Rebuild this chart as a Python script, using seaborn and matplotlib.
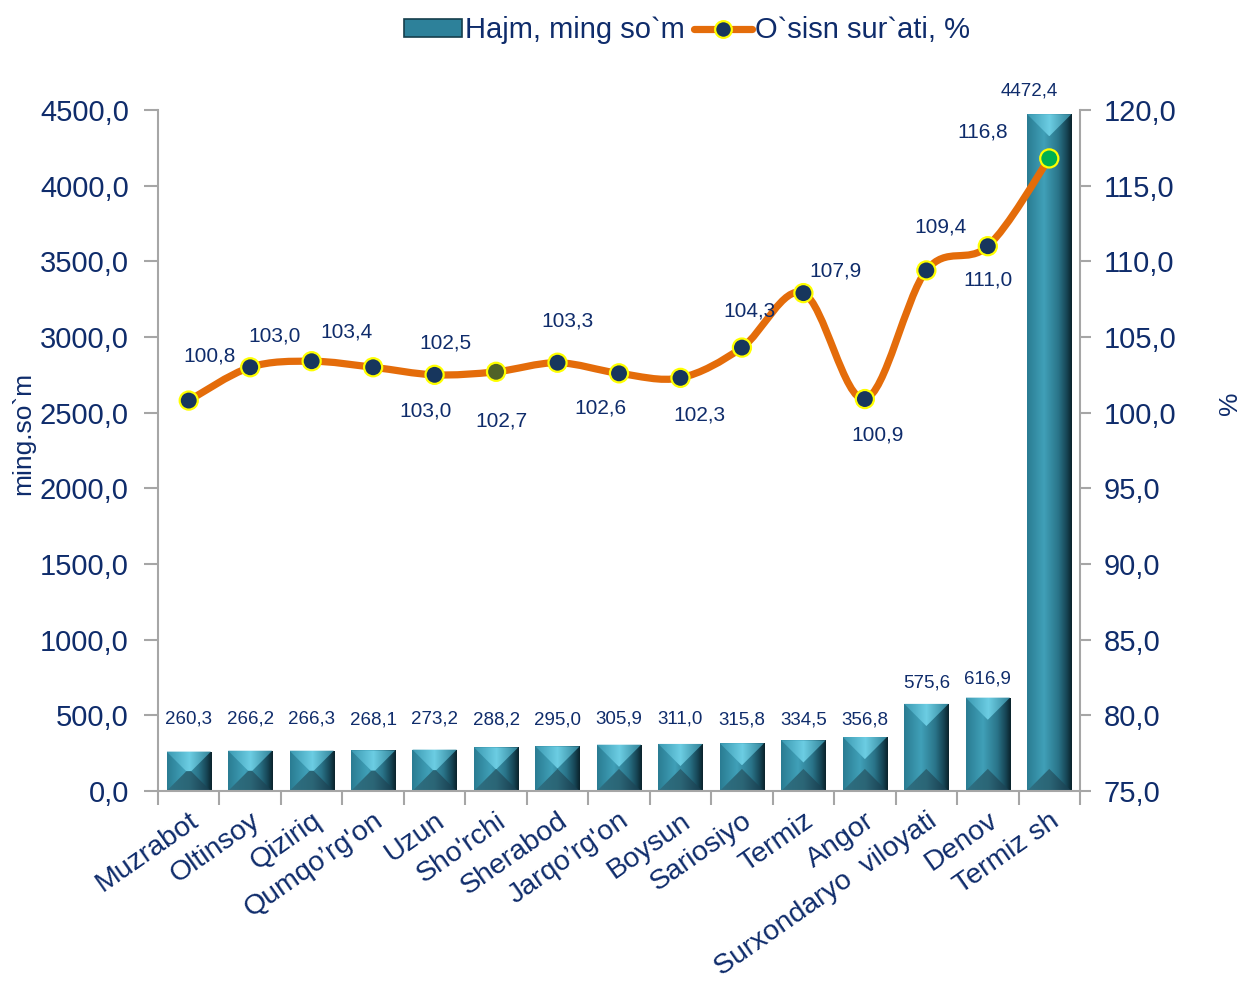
import numpy as np
import pandas as pd
import seaborn as sns
import matplotlib.pyplot as plt
from matplotlib.path import Path
from matplotlib.patches import PathPatch, Polygon, Patch
from matplotlib.lines import Line2D
from matplotlib.ticker import FixedLocator
from matplotlib.colors import LinearSegmentedColormap


districts = ["Muzrabot", "Oltinsoy", "Qiziriq", "Qumqo’rg'on", "Uzun", "Sho'rchi",
             "Sherabod", "Jarqo’rg'on", "Boysun", "Sariosiyo", "Termiz", "Angor",
             "Surxondaryo  viloyati", "Denov", "Termiz sh"]
volume = [260.3, 266.2, 266.3, 268.1, 273.2, 288.2, 295.0, 305.9, 311.0, 315.8,
          334.5, 356.8, 575.6, 616.9, 4472.4]
growth = [100.8, 103.0, 103.4, 103.0, 102.5, 102.7, 103.3, 102.6, 102.3, 104.3,
          107.9, 100.9, 109.4, 111.0, 116.8]
vol_ticks = [0, 500, 1000, 1500, 2000, 2500, 3000, 3500, 4000, 4500]
pct_ticks = [75, 80, 85, 90, 95, 100, 105, 110, 115, 120]

# label placement (pixels, relative to the mark)
bar_label_offsets = [(0, 24), (0, 23), (0, 23), (0, 22), (0, 22), (0, 19), (0, 18), (0, 17),
                     (0, 16), (0, 15), (0, 12), (0, 9), (0, 12), (0, 10), (-20, 15)]
line_label_offsets = [(21, 45), (24, 31), (35, 29), (52, -44), (11, 32), (5, -49), (10, 42),
                      (-19, -35), (19, -37), (8, 37), (32, 22), (13, -36), (14, 43), (0, -34),
                      (-67, 26)]

NAVY = "#0F2C6B"
GRAY = "#A6A6A6"
ORANGE = "#E46C0A"
MARKER = "#17365D"
marker_colors = {d: MARKER for d in districts}
marker_colors["Sho'rchi"] = "#4F6228"
marker_colors["Termiz sh"] = "#00B050"


def fmt(v):
    return f"{v:.1f}".replace(".", ",")


sns.set_style("white")
plt.rcParams["font.family"] = ["Liberation Sans", "DejaVu Sans"]

df = pd.DataFrame({"district": districts, "volume": volume, "growth": growth})

fig = plt.figure(figsize=(12.42, 9.83), dpi=100)
ax = fig.add_axes([158 / 1242, 192 / 983, 922 / 1242, 681 / 983])

sns.barplot(data=df, x="district", y="volume", color="#2D86A0", saturation=1,
            width=0.72, ax=ax, zorder=2)
n = len(districts)
ax.set_xlim(-0.5, n - 0.5)
ax.set_ylim(vol_ticks[0], vol_ticks[-1])

# bevelled bar look
face_cmap = LinearSegmentedColormap.from_list(
    "face", [(0, "#2A7C92"), (0.38, "#40A0B8"), (0.7, "#2A7489"), (0.88, "#174757"), (1, "#0A222B")])
top_cmap = LinearSegmentedColormap.from_list(
    "top", [(0, "#3A98B0"), (0.5, "#6CCDE3"), (1, "#2F7F94")])
bot_cmap = LinearSegmentedColormap.from_list(
    "bot", [(0, "#2F7083"), (0.5, "#2B6676"), (1, "#15394A")])
grad = np.linspace(0, 1, 256)[None, :]

bbox = ax.get_window_extent()
sx = bbox.width / (n)
sy = bbox.height / (vol_ticks[-1] - vol_ticks[0])
bars = list(ax.patches)
centers = []
for p in bars:
    x0, w, h = p.get_x(), p.get_width(), p.get_height()
    x1 = x0 + w
    centers.append(x0 + w / 2)
    d = min(w * sx, h * sy) / 2
    dx, dy = d / sx, d / sy
    im = ax.imshow(grad, cmap=face_cmap, extent=[x0, x1, 0, h], aspect="auto",
                   interpolation="bilinear", zorder=2.1)
    im.set_clip_path(p)
    top = Polygon([(x0, h), (x1, h), (x1 - dx, h - dy), (x0 + dx, h - dy)],
                  facecolor="none", edgecolor="none")
    ax.add_patch(top)
    imt = ax.imshow(grad, cmap=top_cmap, extent=[x0, x1, h - dy, h], aspect="auto",
                    interpolation="bilinear", zorder=2.2)
    imt.set_clip_path(top)
    bot = Polygon([(x0, 0), (x1, 0), (x1 - dx, dy), (x0 + dx, dy)],
                  facecolor="none", edgecolor="none")
    ax.add_patch(bot)
    imb = ax.imshow(grad, cmap=bot_cmap, extent=[x0, x1, 0, dy], aspect="auto",
                    interpolation="bilinear", zorder=2.2)
    imb.set_clip_path(bot)
ax.set_xlim(-0.5, n - 0.5)
ax.set_ylim(vol_ticks[0], vol_ticks[-1])

for c, v, off in zip(centers, volume, bar_label_offsets):
    ax.annotate(fmt(v), xy=(c, v), xytext=off, textcoords="offset pixels",
                ha="center", va="bottom", fontsize=13.5, color=NAVY, zorder=5)

# axes styling (left)
ax.set_yticks(vol_ticks)
ax.set_yticklabels([fmt(v) for v in vol_ticks])
ax.tick_params(axis="y", direction="out", length=10, width=1.5, color=GRAY,
               labelsize=21, labelcolor=NAVY, pad=11, left=True)
ax.set_xticks(centers)
ax.set_xticklabels(districts, rotation=35, ha="right", va="top", rotation_mode="anchor")
ax.tick_params(axis="x", which="major", length=0, labelsize=20.5, labelcolor=NAVY, pad=12)
ax.xaxis.set_minor_locator(FixedLocator([c - 0.5 for c in centers] + [centers[-1] + 0.5]))
ax.tick_params(axis="x", which="minor", direction="out", length=10, width=1.5, color=GRAY,
               bottom=True)
for side in ["top", "right"]:
    ax.spines[side].set_visible(False)
for side in ["left", "bottom"]:
    ax.spines[side].set_color(GRAY)
    ax.spines[side].set_linewidth(1.5)
ax.set_xlabel("")
ax.set_ylabel("ming.so`m", fontsize=19, color=NAVY)
ax.yaxis.set_label_coords(-0.133, 0.525)

# growth line on the right axis
ax2 = ax.twinx()
ax2.set_ylim(pct_ticks[0], pct_ticks[-1])
pts = np.column_stack([centers, growth])
verts = [pts[0]]
codes = [Path.MOVETO]
for i in range(n - 1):
    pm = pts[i - 1] if i > 0 else pts[i]
    pp = pts[i + 2] if i + 2 < n else pts[i + 1]
    c1 = pts[i] + (pts[i + 1] - pm) / 6
    c2 = pts[i + 1] - (pp - pts[i]) / 6
    verts += [c1, c2, pts[i + 1]]
    codes += [Path.CURVE4] * 3
ax2.add_patch(PathPatch(Path(verts, codes), facecolor="none", edgecolor=ORANGE, lw=5.2,
                        capstyle="round", joinstyle="round", zorder=3))
sns.scatterplot(data=df, x="district", y="growth", hue="district", palette=marker_colors,
                s=170, edgecolor="#FFFF00", linewidth=1.6, legend=False, ax=ax2, zorder=4)
for c, g, off in zip(centers, growth, line_label_offsets):
    ax2.annotate(fmt(g), xy=(c, g), xytext=off, textcoords="offset pixels",
                 ha="center", va="center", fontsize=15, color=NAVY, zorder=5)

ax2.set_xlim(-0.5, n - 0.5)
ax2.set_ylim(pct_ticks[0], pct_ticks[-1])
ax2.set_yticks(pct_ticks)
ax2.set_yticklabels([fmt(v) for v in pct_ticks])
ax2.tick_params(axis="y", direction="out", length=8, width=1.5, color=GRAY,
                labelsize=21, labelcolor=NAVY, pad=9, right=True)
for side in ["top", "left", "bottom"]:
    ax2.spines[side].set_visible(False)
ax2.spines["right"].set_color(GRAY)
ax2.spines["right"].set_linewidth(1.5)
ax2.set_xlabel("")
ax2.set_ylabel("%", fontsize=19, color=NAVY)
ax2.yaxis.set_label_coords(1.15, 0.57)

handles = [
    Patch(facecolor="#2D819A", edgecolor="#153E4C", linewidth=1.2),
    Line2D([0], [0], color=ORANGE, lw=5.2, marker="o", markersize=12,
           markerfacecolor=MARKER, markeredgecolor="#FFFF00", markeredgewidth=1.6),
]
fig.legend(handles, ["Hajm, ming so`m", "O`sisn sur`ati, %"], loc="center",
           bbox_to_anchor=(0.553, 0.969), ncol=2, frameon=False, fontsize=21,
           labelcolor=NAVY, handlelength=2.0, handleheight=0.6, handletextpad=0.1,
           columnspacing=0.3)

fig.savefig("out.png", dpi=100)
